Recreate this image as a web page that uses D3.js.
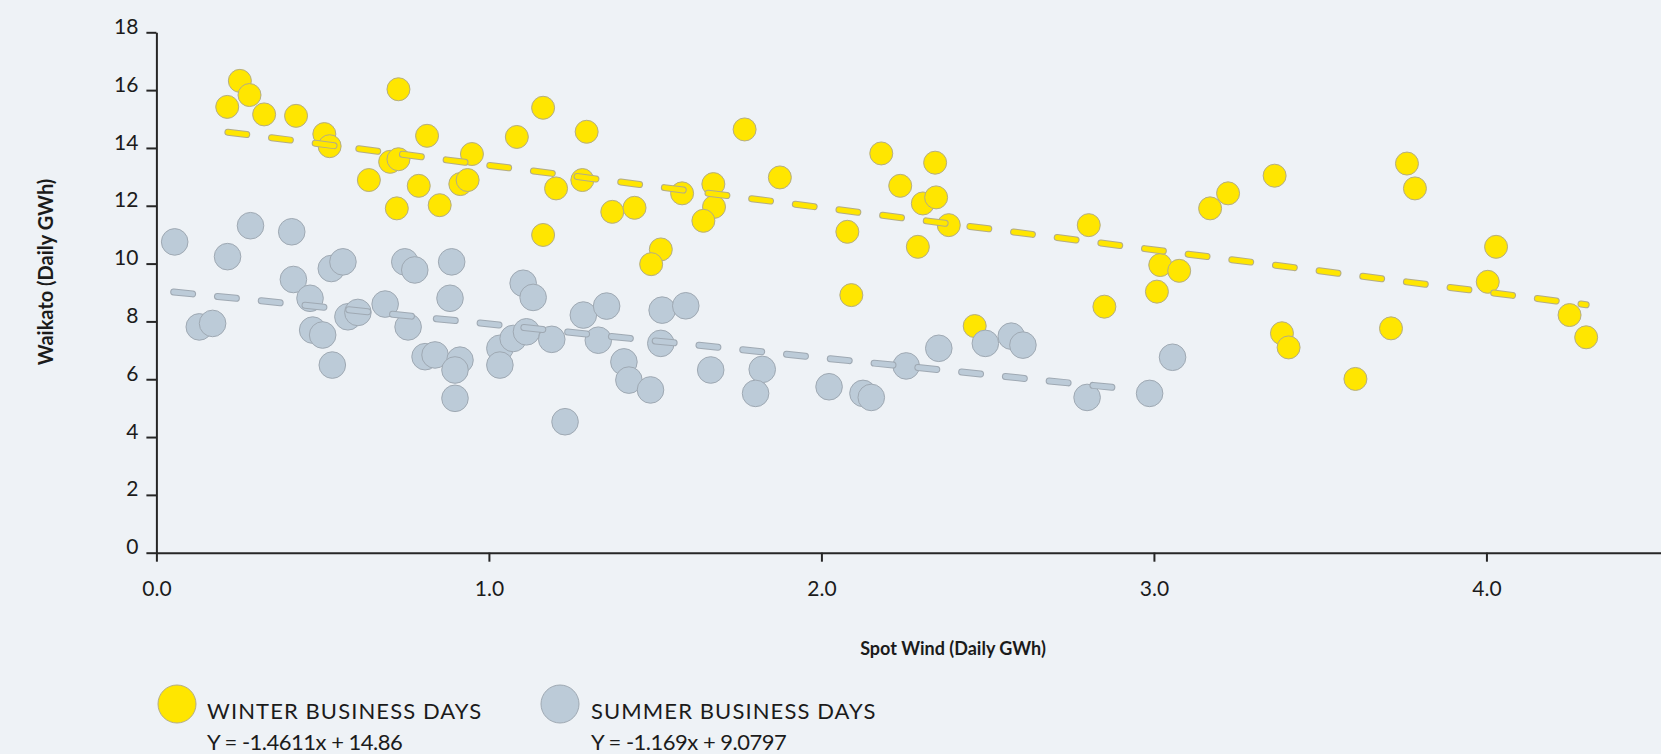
<!DOCTYPE html>
<html>
<head>
<meta charset="utf-8">
<script src="https://cdn.jsdelivr.net/npm/d3@7"></script>
<style>
  html, body { margin: 0; padding: 0; background: #eef2f6; }
  svg { display: block; }
  text { font-family: Lato, "Open Sans", sans-serif; fill: #1b1b1b; }
</style>
</head>
<body>
<svg id="chart" width="1661" height="754"></svg>
<script>
// Spot Wind vs Waikato daily generation, business days by season
const winterX = [0.251, 0.280, 0.213, 0.324, 0.420, 0.505, 0.521, 0.639, 0.728, 0.814,
                 1.163, 1.084, 1.294, 0.703, 0.728, 0.789, 0.723, 0.852, 0.949, 0.914,
                 0.936, 1.202, 1.281, 1.163, 1.371, 1.769, 1.875, 1.438, 1.581, 1.675,
                 1.677, 1.645, 1.517, 1.488, 2.078, 2.090, 2.180, 2.342, 2.237, 2.305,
                 2.345, 2.383, 2.290, 2.461, 2.804, 3.169, 3.223, 3.363, 3.019, 3.076,
                 3.009, 2.851, 3.385, 3.405, 3.761, 3.785, 4.029, 4.004, 3.713, 3.606,
                 4.250, 4.300];
const winterY = [16.32, 15.83, 15.42, 15.16, 15.11, 14.48, 14.06, 12.89, 16.03, 14.42,
                 15.39, 14.38, 14.56, 13.52, 13.61, 12.69, 11.91, 12.02, 13.79, 12.75,
                 12.89, 12.60, 12.89, 10.99, 11.79, 14.64, 12.98, 11.93, 12.43, 12.75,
                 11.96, 11.48, 10.49, 9.98, 11.10, 8.91, 13.81, 13.49, 12.69, 12.08,
                 12.29, 11.33, 10.58, 7.84, 11.33, 11.91, 12.43, 13.04, 9.95, 9.75,
                 9.03, 8.51, 7.59, 7.10, 13.46, 12.60, 10.58, 9.37, 7.76, 6.01,
                 8.22, 7.45];

const summerX = [0.055, 0.283, 0.407, 0.214, 0.526, 0.561, 0.412, 0.462, 0.129, 0.169,
                 0.470, 0.500, 0.529, 0.576, 0.606, 0.688, 0.747, 0.777, 0.888, 0.883,
                 0.757, 0.808, 0.838, 0.913, 0.898, 0.898, 1.103, 1.133, 1.033, 1.033,
                 1.073, 1.113, 1.189, 1.284, 1.354, 1.329, 1.229, 1.521, 1.592, 1.517,
                 1.406, 1.421, 1.486, 1.667, 1.822, 1.802, 2.023, 2.125, 2.150, 2.255,
                 2.353, 2.493, 2.571, 2.606, 2.799, 3.056, 2.987];
const summerY = [10.75, 11.31, 11.10, 10.24, 9.83, 10.06, 9.45, 8.80, 7.81, 7.93,
                 7.70, 7.53, 6.49, 8.16, 8.31, 8.60, 10.06, 9.78, 10.06, 8.80,
                 7.81, 6.78, 6.84, 6.66, 6.32, 5.34, 9.32, 8.83, 7.07, 6.49,
                 7.41, 7.64, 7.38, 8.22, 8.53, 7.35, 4.53, 8.39, 8.54, 7.24,
                 6.60, 5.97, 5.63, 6.32, 6.34, 5.51, 5.74, 5.51, 5.37, 6.46,
                 7.07, 7.24, 7.49, 7.18, 5.37, 6.76, 5.51];

// Linear fits shown in the legend, and the span each is drawn over
const winterFit = [-1.4611, 14.86];
const summerFit = [-1.169, 9.0797];
const winterFitSpan = [0.215, 4.30];
const summerFitSpan = [0.052, 2.90];

const xTicks = [0, 1, 2, 3, 4];
const yTicks = [0, 2, 4, 6, 8, 10, 12, 14, 16, 18];
const xTitle = "Spot Wind (Daily GWh)";
const yTitle = "Waikato (Daily GWh)";
const seriesNames = ["WINTER BUSINESS DAYS", "SUMMER BUSINESS DAYS"];
const seriesEquations = ["Y = -1.4611x + 14.86", "Y = -1.169x + 9.0797"];

const YELLOW = "#ffe600", YELLOW_EDGE = "#b4ad85";
const GREY = "#bccbd8", GREY_EDGE = "#9fa9b3";

const svg = d3.select("#chart");
svg.append("rect").attr("width", 1661).attr("height", 754).attr("fill", "#eef2f6");

const x = d3.scaleLinear().domain([0, 4.525]).range([156.4, 1661]);
const y = d3.scaleLinear().domain([0, 18]).range([552.7, 32.3]);

// Axes
const xAxis = svg.append("g")
  .attr("transform", `translate(0,${y(0)})`)
  .call(d3.axisBottom(x).tickValues(xTicks).tickFormat(d3.format(".1f"))
        .tickSize(9).tickSizeOuter(0).tickPadding(19));
const yAxis = svg.append("g")
  .attr("transform", `translate(${x(0)},0)`)
  .call(d3.axisLeft(y).tickValues(yTicks).tickFormat(d3.format("d"))
        .tickSize(10).tickSizeOuter(0).tickPadding(8));

[xAxis, yAxis].forEach(g => {
  g.select(".domain").attr("stroke", "#262626").attr("stroke-width", 2);
  g.selectAll(".tick line").attr("stroke", "#262626").attr("stroke-width", 2);
  g.selectAll(".tick text").attr("font-size", 21).attr("fill", "#1b1b1b")
    .style("font-family", "Lato, 'Open Sans', sans-serif");
});
yAxis.selectAll(".tick text").attr("dy", "0.05em");

// Axis titles
svg.append("text")
  .attr("x", 953).attr("y", 655)
  .attr("text-anchor", "middle")
  .attr("font-size", 18).attr("font-weight", 700)
  .text(xTitle);
svg.append("text")
  .attr("transform", `translate(53,272) rotate(-90)`)
  .attr("text-anchor", "middle")
  .attr("font-size", 20).attr("font-weight", 700)
  .text(yTitle);

// Points
function drawPoints(xs, ys, r, fill, edge) {
  svg.append("g").selectAll("circle")
    .data(d3.zip(xs, ys))
    .join("circle")
    .attr("cx", d => x(d[0]))
    .attr("cy", d => y(d[1]))
    .attr("r", r)
    .attr("fill", fill)
    .attr("stroke", edge)
    .attr("stroke-width", 1);
}
drawPoints(winterX, winterY, 11.5, YELLOW, YELLOW_EDGE);
drawPoints(summerX, summerY, 13.3, GREY, GREY_EDGE);

// Dashed fit lines
function drawFit(fit, span, fill, edge) {
  const pts = span.map(v => [v, fit[0] * v + fit[1]]);
  const line = d3.line().x(d => x(d[0])).y(d => y(d[1]));
  const g = svg.append("g").attr("fill", "none")
    .attr("stroke-linecap", "round").attr("stroke-dasharray", "19 25");
  g.append("path").attr("d", line(pts)).attr("stroke", edge).attr("stroke-width", 7);
  g.append("path").attr("d", line(pts)).attr("stroke", fill).attr("stroke-width", 5);
}
drawFit(summerFit, summerFitSpan, GREY, GREY_EDGE);
drawFit(winterFit, winterFitSpan, YELLOW, YELLOW_EDGE);

// Legend
const legendItems = [
  { cx: 177, tx: 207, fill: YELLOW, edge: YELLOW_EDGE },
  { cx: 560, tx: 591, fill: GREY, edge: GREY_EDGE }
];
legendItems.forEach((it, i) => {
  const g = svg.append("g");
  g.append("circle").attr("cx", it.cx).attr("cy", 704).attr("r", 19)
    .attr("fill", it.fill).attr("stroke", it.edge).attr("stroke-width", 1);
  g.append("text").attr("x", it.tx).attr("y", 719).attr("font-size", 22)
    .attr("letter-spacing", 1.1)
    .text(seriesNames[i]);
  g.append("text").attr("x", it.tx).attr("y", 750).attr("font-size", 22)
    .attr("letter-spacing", -0.5)
    .text(seriesEquations[i]);
});
</script>
</body>
</html>
